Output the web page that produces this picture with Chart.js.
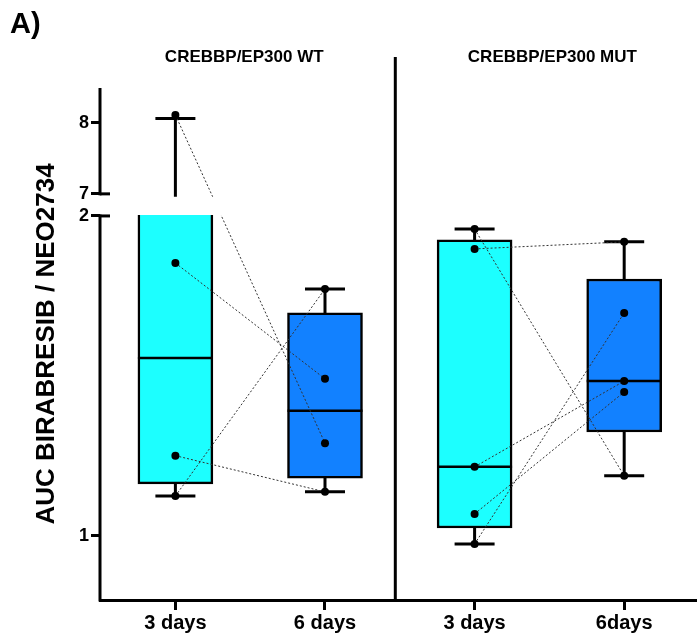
<!DOCTYPE html>
<html lang="en">
<head>
<meta charset="UTF-8">
<title>AUC Birabresib / NEO2734</title>
<script src="https://cdn.jsdelivr.net/npm/chart.js"></script>
<style>
    html, body { margin: 0; padding: 0; background: #fff; }
    canvas { display: block; }
</style>
</head>
<body>
<canvas id="aucChart" width="700" height="637"></canvas>
<script>
// x positions: 3 / 6 days for each genotype panel
const groupLabels = ['3 days', '6 days', '3 days', '6days'];
const panelTitles = ['CREBBP/EP300 WT', 'CREBBP/EP300 MUT'];
const yTickValues = [1, 2, 7, 8];

// box-and-whisker summary per group
const boxQ1 = [1.163, 1.181, 1.025, 1.325];
const boxMedian = [1.556, 1.391, 1.216, 1.484];
const boxQ3 = [5.5, 1.697, 1.925, 1.803];
const whiskerLow = [1.125, 1.138, 0.975, 1.188];
const whiskerHigh = [8.06, 1.772, 1.959, 1.919];
const boxColors = ['#1cffff', '#1281ff', '#1cffff', '#1281ff'];

// paired samples, 3 days -> 6 days
const wtDay3 = [8.11, 1.853, 1.251, 1.125];
const wtDay6 = [1.29, 1.491, 1.138, 1.772];
const mutDay3 = [1.959, 1.897, 1.216, 1.069, 0.975];
const mutDay6 = [1.188, 1.919, 1.484, 1.45, 1.697];

const FONT = "'Liberation Sans', Arial, sans-serif";
const BOX_WIDTH = 75;
const CAP_HALF = 20;

// broken y axis: 2..7 is squeezed into a small gap, 7+ is compressed
const BREAK_LO = 2, BREAK_HI = 7;
const GAP = 0.069;
const UPPER_SCALE = 0.222;

function toBand(v) {
    if (v <= BREAK_LO) return v;
    if (v >= BREAK_HI) return BREAK_LO + GAP + (v - BREAK_HI) * UPPER_SCALE;
    return BREAK_LO + (v - BREAK_LO) / (BREAK_HI - BREAK_LO) * GAP;
}
function fromBand(t) {
    if (t <= BREAK_LO) return t;
    if (t >= BREAK_LO + GAP) return BREAK_HI + (t - BREAK_LO - GAP) / UPPER_SCALE;
    return BREAK_LO + (t - BREAK_LO) / GAP * (BREAK_HI - BREAK_LO);
}

class BrokenLinearScale extends Chart.LinearScale {
    static id = 'brokenLinear';
    static defaults = {};
    determineDataLimits() {
        this.min = toBand(this.options.min);
        this.max = toBand(this.options.max);
    }
    buildTicks() {
        return yTickValues.map(v => ({ value: v }));
    }
    getPixelForValue(value) {
        return super.getPixelForValue(value == null ? value : toBand(value));
    }
    getValueForPixel(pixel) {
        return fromBand(super.getValueForPixel(pixel));
    }
}
Chart.register(BrokenLinearScale);

// hide everything that falls inside the axis break
const axisBreakClip = {
    id: 'axisBreakClip',
    beforeDatasetsDraw(chart) {
        const { ctx, width, height, scales: { y } } = chart;
        const gapTop = y.getPixelForValue(BREAK_HI) + 3;
        const gapBottom = y.getPixelForValue(BREAK_LO) - 1;
        ctx.save();
        ctx.beginPath();
        ctx.rect(0, 0, width, gapTop);
        ctx.rect(0, gapBottom, width, height - gapBottom);
        ctx.clip();
    },
    afterDatasetsDraw(chart) {
        chart.ctx.restore();
    }
};

function stroke(ctx, x1, y1, x2, y2) {
    ctx.beginPath();
    ctx.moveTo(x1, y1);
    ctx.lineTo(x2, y2);
    ctx.stroke();
}

// medians, whiskers and caps on top of the boxes
const boxPlotExtras = {
    id: 'boxPlotExtras',
    afterDatasetDraw(chart, args) {
        if (args.index !== 0) return;
        const { ctx, scales: { x, y } } = chart;
        ctx.save();
        ctx.strokeStyle = '#000';
        boxMedian.forEach((m, i) => {
            const cx = x.getPixelForValue(i);
            ctx.lineWidth = 2.5;
            stroke(ctx, cx - BOX_WIDTH / 2, y.getPixelForValue(m), cx + BOX_WIDTH / 2, y.getPixelForValue(m));
            ctx.lineWidth = 3;
            stroke(ctx, cx, y.getPixelForValue(boxQ3[i]), cx, y.getPixelForValue(whiskerHigh[i]));
            stroke(ctx, cx, y.getPixelForValue(boxQ1[i]), cx, y.getPixelForValue(whiskerLow[i]));
            stroke(ctx, cx - CAP_HALF, y.getPixelForValue(whiskerHigh[i]), cx + CAP_HALF, y.getPixelForValue(whiskerHigh[i]));
            stroke(ctx, cx - CAP_HALF, y.getPixelForValue(whiskerLow[i]), cx + CAP_HALF, y.getPixelForValue(whiskerLow[i]));
        });
        ctx.restore();
    }
};

// split y axis, panel divider, panel titles and figure letter
const frameDecor = {
    id: 'frameDecor',
    afterDraw(chart) {
        const { ctx, chartArea: a, scales: { x, y } } = chart;
        const yHi = y.getPixelForValue(BREAK_HI);
        const yLo = y.getPixelForValue(BREAK_LO);
        ctx.save();
        ctx.strokeStyle = '#000';
        ctx.lineWidth = 3;
        stroke(ctx, a.left, a.top, a.left, yHi + 1.5);
        stroke(ctx, a.left, yLo - 1.5, a.left, a.bottom + 1.5);
        stroke(ctx, a.left, yHi, a.left + 10, yHi);
        stroke(ctx, a.left, yLo, a.left + 10, yLo);

        const dx = x.getPixelForValue(1.47);
        stroke(ctx, dx, a.top - 31, dx, a.bottom);

        ctx.fillStyle = '#000';
        ctx.textAlign = 'center';
        ctx.textBaseline = 'alphabetic';
        ctx.font = 'bold 17px ' + FONT;
        ctx.fillText(panelTitles[0], x.getPixelForValue(0.46), 62);
        ctx.fillText(panelTitles[1], x.getPixelForValue(2.52), 62);

        ctx.textAlign = 'left';
        ctx.font = 'bold 29px ' + FONT;
        ctx.fillText('A)', 10, 33);
        ctx.restore();
    }
};

function pairLine(x0, a, b) {
    return {
        type: 'line',
        data: [{ x: x0, y: a }, { x: x0 + 1, y: b }],
        borderColor: '#333',
        borderWidth: 1,
        borderDash: [2, 2],
        pointRadius: 4,
        pointBackgroundColor: '#000',
        pointBorderWidth: 0,
        fill: false,
        order: 1
    };
}

const datasets = [{
    type: 'bar',
    data: groupLabels.map((_, i) => ({ x: i, y: [boxQ1[i], boxQ3[i]] })),
    backgroundColor: boxColors,
    borderColor: '#000',
    borderWidth: 2.5,
    borderSkipped: false,
    barThickness: BOX_WIDTH,
    order: 2
}];
wtDay3.forEach((v, i) => datasets.push(pairLine(0, v, wtDay6[i])));
mutDay3.forEach((v, i) => datasets.push(pairLine(2, v, mutDay6[i])));

new Chart(document.getElementById('aucChart'), {
    type: 'bar',
    data: { datasets },
    plugins: [axisBreakClip, boxPlotExtras, frameDecor],
    options: {
        responsive: false,
        animation: false,
        events: [],
        layout: { padding: { top: 88, left: 0, right: 0, bottom: 0 } },
        plugins: { legend: { display: false }, tooltip: { enabled: false } },
        scales: {
            x: {
                type: 'linear',
                bounds: 'data',
                min: -0.504,
                max: 3.48,
                offset: false,
                afterBuildTicks: s => { s.ticks = groupLabels.map((_, i) => ({ value: i })); },
                ticks: {
                    callback: (v, i) => groupLabels[i],
                    autoSkip: false,
                    maxRotation: 0,
                    padding: 1.5,
                    color: '#000',
                    font: { family: FONT, size: 20, weight: 'bold' }
                },
                grid: { offset: false, drawOnChartArea: false, tickLength: 10, tickWidth: 3, tickColor: '#000' },
                border: { display: true, width: 3, color: '#000' }
            },
            y: {
                type: 'brokenLinear',
                min: 0.8,
                max: 8.49,
                afterFit: s => { s.width = 100; },
                ticks: {
                    callback: v => String(v),
                    padding: 2,
                    color: '#000',
                    font: { family: FONT, size: 18, weight: 'bold' }
                },
                grid: { drawOnChartArea: false, tickLength: 9, tickWidth: 3, tickColor: '#000' },
                border: { display: false },
                title: {
                    display: true,
                    text: 'AUC BIRABRESIB / NEO2734',
                    color: '#000',
                    padding: { top: 31, bottom: 0 },
                    font: { family: FONT, size: 26, weight: 'bold' }
                }
            }
        }
    }
});
</script>
</body>
</html>
